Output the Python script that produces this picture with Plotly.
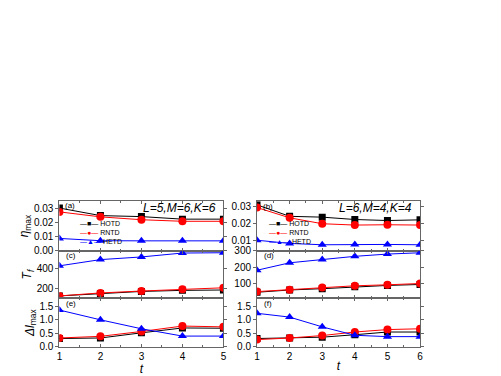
import plotly.graph_objects as go
from plotly.subplots import make_subplots

t_left = [1, 2, 3, 4, 5]
t_right = [1, 2, 3, 4, 5, 6]

# eta_max, L=5,M=6,K=6 (a) and L=6,M=4,K=4 (b)
eta_hotd_a = [0.0300, 0.0247, 0.0240, 0.0222, 0.0222]
eta_rntd_a = [0.0273, 0.0238, 0.0218, 0.0207, 0.0207]
eta_hetd_a = [0.0087, 0.0071, 0.0070, 0.0070, 0.0070]
eta_hotd_b = [0.0310, 0.0242, 0.0237, 0.0223, 0.0217, 0.0221]
eta_rntd_b = [0.0294, 0.0233, 0.0198, 0.0190, 0.0192, 0.0190]
eta_hetd_b = [0.0100, 0.0081, 0.0073, 0.0075, 0.0075, 0.0073]

# T_f (c) and (d)
tf_hotd_c = [118, 143, 165, 176, 180]
tf_rntd_c = [118, 149, 169, 187, 203]
tf_hetd_c = [433, 498, 526, 567, 570]
tf_hotd_d = [44, 58, 66, 78, 86, 92]
tf_rntd_d = [48, 60, 74, 84, 90, 98]
tf_hetd_d = [180, 226, 246, 266, 280, 288]

# delta_max (e) and (f)
dl_hotd_e = [0.31, 0.33, 0.52, 0.70, 0.69]
dl_rntd_e = [0.33, 0.39, 0.57, 0.77, 0.74]
dl_hetd_e = [1.36, 1.00, 0.67, 0.40, 0.40]
dl_hotd_f = [0.31, 0.33, 0.36, 0.45, 0.55, 0.55]
dl_rntd_f = [0.27, 0.33, 0.42, 0.55, 0.64, 0.67]
dl_hetd_f = [1.24, 1.10, 0.74, 0.43, 0.38, 0.38]

names = ["HOTD", "RNTD", "HETD"]
colors = ["black", "red", "blue"]
symbols = ["square", "circle", "triangle-up"]
glyphs = ["■", "●", "▲"]
sizes = [7, 8, 8]

W, H = 501, 376
OFF = 8  # page body margin
FONT = "Arial"

fig = make_subplots(rows=3, cols=2)

panels = [
    (1, 1, t_left, [eta_hotd_a, eta_rntd_a, eta_hetd_a]),
    (1, 2, t_right, [eta_hotd_b, eta_rntd_b, eta_hetd_b]),
    (2, 1, t_left, [tf_hotd_c, tf_rntd_c, tf_hetd_c]),
    (2, 2, t_right, [tf_hotd_d, tf_rntd_d, tf_hetd_d]),
    (3, 1, t_left, [dl_hotd_e, dl_rntd_e, dl_hetd_e]),
    (3, 2, t_right, [dl_hotd_f, dl_rntd_f, dl_hetd_f]),
]

for row, col, x, series in panels:
    for i, y in enumerate(series):
        fig.add_trace(go.Scatter(
            x=x, y=y, name=names[i], mode="lines+markers",
            line=dict(color=colors[i], width=1),
            marker=dict(symbol=symbols[i], size=sizes[i], color=colors[i]),
            showlegend=False), row=row, col=col)

# pixel layout -> paper fractions
def px(x):
    return (x - OFF) / W

def py(y):
    return 1 - (y - OFF) / H

col_dom = {1: [px(57), px(223)], 2: [px(257), px(422)]}
row_dom = {1: [py(253), py(202)], 2: [py(302), py(253)], 3: [py(352), py(302)]}

axis_style = dict(showline=True, linecolor="#666", linewidth=1, mirror="ticks",
                  showgrid=False, zeroline=False, ticklen=3, tickcolor="#666",
                  tickfont=dict(family=FONT, size=10, color="black"))

for row in (1, 2, 3):
    for col in (1, 2):
        xr = [1, 5] if col == 1 else [1, 6]
        fig.update_xaxes(domain=col_dom[col], range=xr, dtick=1, ticks="inside",
                         showticklabels=(row == 3),
                         minor=dict(ticks="inside", ticklen=2, dtick=0.5, tickcolor="#666"),
                         row=row, col=col, **axis_style)
        fig.update_yaxes(domain=row_dom[row], ticks="outside", row=row, col=col, **axis_style)

fig.update_yaxes(range=[0, 0.0347], tickvals=[0, 0.01, 0.02, 0.03], tickformat=".2f", row=1, col=1)
fig.update_yaxes(range=[0.0037, 0.0331], tickvals=[0.01, 0.02, 0.03], tickformat=".2f", row=1, col=2)
fig.update_yaxes(range=[92, 590], tickvals=[200, 400], row=2, col=1)
fig.update_yaxes(range=[6, 300], tickvals=[100, 200, 300], row=2, col=2)
fig.update_yaxes(range=[0, 1.79], tickvals=[0, 0.5, 1.0, 1.5], tickformat=".1f", row=3, col=1)
fig.update_yaxes(range=[0, 1.79], tickvals=[0, 0.5, 1.0, 1.5], tickformat=".1f", row=3, col=2)

title_font = dict(family=FONT, size=12, color="black")
fig.update_yaxes(title=dict(text="<i>η</i><sub>max</sub>", font=title_font, standoff=2), row=1, col=1)
fig.update_yaxes(title=dict(text="<i>T</i><sub><i>f</i></sub>", font=title_font, standoff=2), row=2, col=1)
fig.update_yaxes(title=dict(text="<i>Δl</i><sub>max</sub>", font=title_font, standoff=2), row=3, col=1)
fig.update_xaxes(title=dict(text="<i>t</i>", font=title_font, standoff=0), row=3, col=1)
fig.update_xaxes(title=dict(text="<i>t</i>", font=title_font, standoff=0), row=3, col=2)

annotations = []

def px_note(text, x, y, size, xanchor="left"):
    annotations.append(dict(text=text, x=px(x), y=py(y), xref="paper", yref="paper",
                            showarrow=False, xanchor=xanchor, yanchor="middle", align="left",
                            font=dict(family=FONT, size=size, color="black")))

px_note("<i>L=5,M=6,K=6</i>", 218, 209, 12, "right")
px_note("<i>L=6,M=4,K=4</i>", 416, 209, 12, "right")
for lab, x, y in [("(a)", 61, 206), ("(b)", 261, 207), ("(c)", 62, 258),
                  ("(d)", 262, 258), ("(e)", 62, 307), ("(f)", 262, 307)]:
    px_note(lab, x, y, 8)

# legend keys for panels (a) and (b)
legend_text = "<br>".join(
    '<span style="color:%s">—%s—</span> %s' % (c, g, n)
    for c, g, n in zip(colors, glyphs, names))
for x0 in (76, 267):
    px_note(legend_text, x0, 234, 7)

fig.update_layout(width=W, height=H, margin=dict(l=0, r=0, t=0, b=0),
                  paper_bgcolor="white", plot_bgcolor="white",
                  annotations=annotations, showlegend=False)

fig.write_html("out.html")
